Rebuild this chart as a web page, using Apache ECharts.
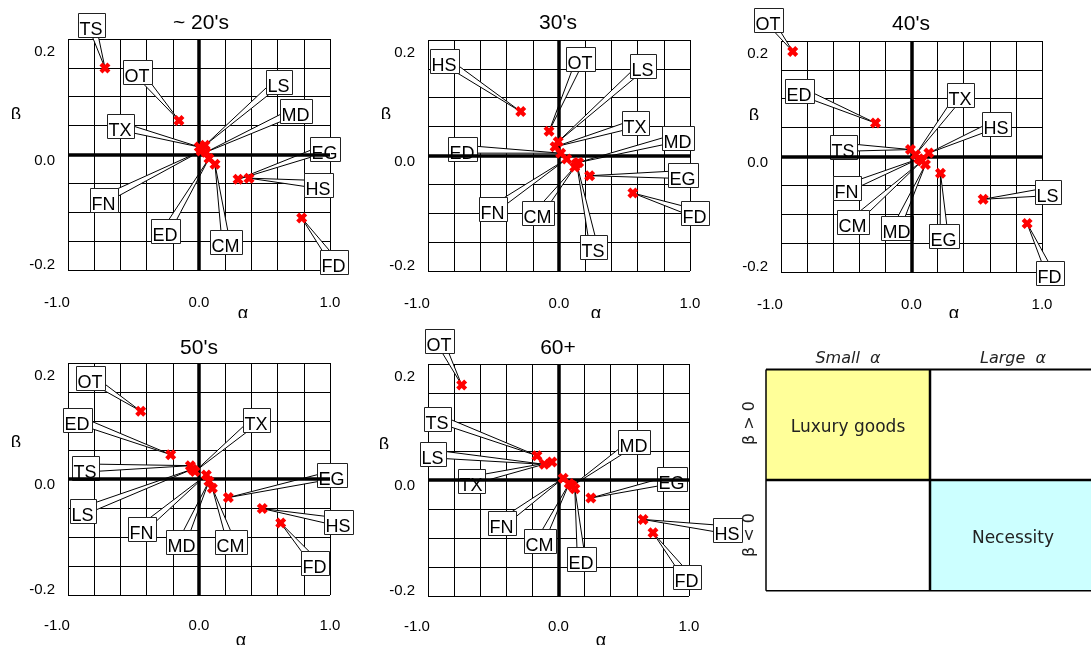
<!DOCTYPE html>
<html>
<head>
<meta charset="utf-8">
<script src="https://cdn.jsdelivr.net/npm/echarts@6.0.0/dist/echarts.min.js"></script>
<style>
html,body{margin:0;padding:0;background:#fff;}
#chart{width:1091px;height:652px;}
</style>
</head>
<body>
<div id="chart"></div>
<script>
// ---------------- DATA ----------------
const goods = ['FD','LS','HS','EG','MD','TS','CM','ED','FN','TX','OT'];
const panelTitles = ["~ 20's", "30's", "40's", "50's", "60+"];

const alpha20 = [0.784, 0.046, 0.382, 0.298, 0.053, -0.718, 0.122, 0.076, 0.015, 0.002, -0.153];
const beta20  = [-0.110, 0.016, -0.041, -0.043, 0.004, 0.150, -0.017, -0.007, 0.006, 0.013, 0.059];
const alpha30 = [0.564, -0.006, -0.292, 0.234, 0.150, 0.135, 0.120, 0.013, 0.059, -0.030, -0.076];
const beta30  = [-0.065, 0.024, 0.076, -0.035, -0.012, -0.014, -0.020, 0.004, -0.006, 0.015, 0.042];
const alpha40 = [0.886, 0.549, 0.133, 0.222, 0.107, -0.008, 0.079, -0.276, 0.056, 0.031, -0.910];
const beta40  = [-0.116, -0.074, 0.006, -0.029, -0.014, 0.012, -0.008, 0.058, -0.004, 0.003, 0.182];
const alpha50 = [0.624, -0.050, 0.483, 0.224, 0.076, -0.066, 0.102, -0.216, 0.056, -0.031, -0.445];
const beta50  = [-0.076, 0.017, -0.051, -0.032, -0.004, 0.023, -0.016, 0.042, 0.007, 0.013, 0.117];
const alpha60 = [0.724, -0.109, 0.648, 0.248, 0.105, -0.165, 0.082, 0.125, 0.036, -0.050, -0.742];
const beta60  = [-0.091, 0.027, -0.068, -0.031, -0.010, 0.042, -0.006, -0.015, 0.003, 0.031, 0.164];

const xTickValues = [-1, 0, 1];
const xTickLabels = ['-1.0', '0.0', '1.0'];
const yTickValues = [-0.2, 0, 0.2];
const yTickLabels = ['-0.2', '0.0', '0.2'];

// ---------------- LAYOUT (callout box centres, in axis units) ----------------
const callout20 = [[1.034,-0.187],[0.607,0.126],[0.916,-0.052],[0.962,0.010],[0.737,0.075],[-0.817,0.224],[0.206,-0.152],[-0.252,-0.133],[-0.729,-0.078],[-0.599,0.049],[-0.466,0.142]];
const callout30 = [[1.038,-0.100],[0.640,0.155],[-0.871,0.164],[0.945,-0.033],[0.907,0.031],[0.266,-0.159],[-0.157,-0.100],[-0.738,0.011],[-0.503,-0.093],[0.587,0.056],[0.164,0.167]];
const callout40 = [[1.062,-0.202],[1.043,-0.061],[0.654,0.057],[0.250,-0.138],[-0.114,-0.123],[-0.519,0.016],[-0.452,-0.114],[-0.861,0.114],[-0.498,-0.055],[0.375,0.107],[-1.096,0.237]];
const callout50 = [[0.882,-0.144],[-0.882,-0.055],[1.063,-0.074],[1.018,0.007],[-0.127,-0.108],[-0.864,0.019],[0.244,-0.108],[-0.926,0.102],[-0.435,-0.086],[0.437,0.102],[-0.830,0.174]];
const callout60 = [[0.986,-0.167],[-0.962,0.045],[1.298,-0.086],[0.872,0.001],[0.576,0.065],[-0.924,0.106],[-0.138,-0.105],[0.175,-0.136],[-0.433,-0.074],[-0.669,-0.001],[-0.911,0.240]];

const panelAlpha = [alpha20, alpha30, alpha40, alpha50, alpha60];
const panelBeta = [beta20, beta30, beta40, beta50, beta60];
const panelCallout = [callout20, callout30, callout40, callout50, callout60];

const gridBoxes = [
  {left:68, top:39, width:262, height:231},
  {left:428, top:40, width:262, height:231},
  {left:781, top:41, width:261, height:231},
  {left:68, top:363, width:262, height:232},
  {left:428, top:364, width:261, height:232}
];
const titlePos = [[201,23],[558,23],[911,24],[199,348],[558,348]];
const alphaNamePos = [[243,314,318],[596,314,318],[954,314,318],[241,641,645],[601,641,645]];
const betaNamePos = [[16,115,119],[386,115,119],[754,116,120],[16,443,447],[384,445,449]];

const FONT = '"Liberation Sans", Arial, sans-serif';
const BOX_FONT_SIZE = 18;
const measureCtx = document.createElement('canvas').getContext('2d');
measureCtx.font = BOX_FONT_SIZE + 'px "Liberation Sans"';
function textW(t){ return measureCtx.measureText(t).width; }

const X_PATH = 'path://M0,3 L3,0 L5.5,2.5 L8,0 L11,3 L8.5,5.5 L11,8 L8,11 L5.5,8.5 L3,11 L0,8 L2.5,5.5 Z';

function near(a,b){ return Math.abs(a-b) < 1e-9; }

const grids = [], xAxes = [], yAxes = [], series = [], graphics = [];

for (let i = 0; i < 5; i++) {
  grids.push(Object.assign({containLabel:false, show:false}, gridBoxes[i]));
  xAxes.push({
    type:'value', gridIndex:i, min:-1, max:1, interval:0.2,
    axisLine:{show:false}, axisTick:{show:false},
    splitLine:{show:true, lineStyle:{color:'#000', width:1}},
    axisLabel:{
      margin: i < 3 ? 25 : 23, fontSize:15, fontFamily:FONT, color:'#000',
      formatter: function(v){
        for (let k = 0; k < xTickValues.length; k++) {
          if (near(v, xTickValues[k])) return k === 0 ? '{l|' + xTickLabels[k] + '}' : xTickLabels[k];
        }
        return '';
      },
      rich:{ l:{padding:[0,22,0,0], fontSize:15, fontFamily:FONT, color:'#000'} }
    }
  });
  yAxes.push({
    type:'value', gridIndex:i, min:-0.2, max:0.2, interval:0.05,
    axisLine:{show:false}, axisTick:{show:false},
    splitLine:{show:true, lineStyle:{color:'#000', width:1}},
    axisLabel:{
      margin:13, fontSize:15, fontFamily:FONT, color:'#000',
      formatter: function(v){
        const tags = ['b','m','t'];
        for (let k = 0; k < yTickValues.length; k++) {
          if (near(v, yTickValues[k])) return '{' + tags[k] + '|' + yTickLabels[k] + '}';
        }
        return '';
      },
      rich:{
        t:{padding:[26,0,0,0], fontSize:15, fontFamily:FONT, color:'#000'},
        m:{padding:[12,0,0,0], fontSize:15, fontFamily:FONT, color:'#000'},
        b:{padding:[0,0,10,0], fontSize:15, fontFamily:FONT, color:'#000'}
      }
    }
  });

  const al = panelAlpha[i], be = panelBeta[i], co = panelCallout[i];
  const pts = goods.map((g, k) => [al[k], be[k]]);
  const calloutData = goods.map((g, k) => [al[k], be[k], co[k][0], co[k][1], k]);

  // zero axes
  series.push({
    type:'scatter', xAxisIndex:i, yAxisIndex:i, data:[], z:2, silent:true,
    markLine:{
      silent:true, symbol:['none','none'], animation:false,
      label:{show:false},
      lineStyle:{color:'#000', width:3.5, type:'solid'},
      emphasis:{disabled:true},
      data:[{xAxis:0},{yAxis:0}]
    }
  });
  // wedges
  series.push({
    type:'custom', xAxisIndex:i, yAxisIndex:i, z:3, silent:true, clip:false,
    data: calloutData,
    renderItem: function(params, api){
      const p = api.coord([api.value(0), api.value(1)]);
      const c = api.coord([api.value(2), api.value(3)]);
      const dx = c[0]-p[0], dy = c[1]-p[1];
      const L = Math.hypot(dx, dy) || 1;
      const nx = -dy/L, ny = dx/L, hw = 4;
      return {
        type:'polygon',
        shape:{points:[p, [c[0]+nx*hw, c[1]+ny*hw], [c[0]-nx*hw, c[1]-ny*hw]]},
        style:{fill:'#fff', stroke:'#000', lineWidth:1}
      };
    }
  });
  // boxes
  series.push({
    type:'custom', xAxisIndex:i, yAxisIndex:i, z:4, silent:true, clip:false,
    data: calloutData,
    renderItem: function(params, api){
      const name = goods[api.value(4)];
      const c = api.coord([api.value(2), api.value(3)]);
      const w = Math.round(textW(name) + 4), h = 24;
      const x = Math.round(c[0] - w/2) + 0.5, y = Math.round(c[1] - h/2) + 0.5;
      return {
        type:'group',
        children:[
          {type:'rect', shape:{x:x, y:y, width:w, height:h}, style:{fill:'#fff', stroke:'#222', lineWidth:1}},
          {type:'text', x:x+1, y:y+h-7, style:{text:name, fill:'#000', fontSize:BOX_FONT_SIZE, fontFamily:FONT, align:'left', verticalAlign:'middle'}}
        ]
      };
    }
  });
  // points
  series.push({
    type:'scatter', xAxisIndex:i, yAxisIndex:i, z:6, silent:true,
    symbol:X_PATH, symbolSize:11,
    itemStyle:{color:'#ff0000', opacity:1},
    data: pts
  });

  graphics.push({type:'text', x:titlePos[i][0], y:titlePos[i][1], z:50,
    style:{text:panelTitles[i], font:'21px ' + FONT, fill:'#000', align:'center', verticalAlign:'middle'}});
  const ap = alphaNamePos[i];
  graphics.push({type:'text', x:ap[0], y:ap[1], z:50,
    style:{text:'α', font:'18px ' + FONT, fill:'#000', align:'center', verticalAlign:'middle'}});
  graphics.push({type:'rect', shape:{x:ap[0]-12, y:ap[2], width:24, height:14}, z:51, style:{fill:'#fff'}});
  const bp = betaNamePos[i];
  graphics.push({type:'text', x:bp[0], y:bp[1], z:50,
    style:{text:'β', font:'18px ' + FONT, fill:'#000', align:'center', verticalAlign:'middle'}});
  graphics.push({type:'rect', shape:{x:bp[0]-10, y:bp[2], width:20, height:12}, z:51, style:{fill:'#fff'}});
}

// ---------------- Quadrant legend diagram ----------------
const QFONT = '"DejaVu Sans", sans-serif';
graphics.push(
  {type:'rect', shape:{x:766, y:369.5, width:164, height:110.5}, z:40, style:{fill:'#FFFF99'}},
  {type:'rect', shape:{x:930, y:480, width:170, height:110.7}, z:40, style:{fill:'#CCFFFF'}},
  {type:'line', shape:{x1:766, y1:369.5, x2:1100, y2:369.5}, z:41, style:{stroke:'#000', lineWidth:2}},
  {type:'line', shape:{x1:766, y1:590.7, x2:1100, y2:590.7}, z:41, style:{stroke:'#000', lineWidth:1.5}},
  {type:'line', shape:{x1:766, y1:369.5, x2:766, y2:590.7}, z:41, style:{stroke:'#000', lineWidth:1.5}},
  {type:'line', shape:{x1:930, y1:369.5, x2:930, y2:590.7}, z:41, style:{stroke:'#000', lineWidth:2.5}},
  {type:'line', shape:{x1:766, y1:480, x2:1100, y2:480}, z:41, style:{stroke:'#000', lineWidth:2.5}},
  {type:'text', x:848, y:428, z:42, style:{text:'Luxury goods', font:'17px ' + QFONT, fill:'#222', align:'center', verticalAlign:'middle'}},
  {type:'text', x:1013, y:539, z:42, style:{text:'Necessity', font:'17px ' + QFONT, fill:'#222', align:'center', verticalAlign:'middle'}},
  {type:'text', x:848, y:359, z:42, style:{text:'Small  α', font:'italic 16px ' + QFONT, fill:'#222', align:'center', verticalAlign:'middle'}},
  {type:'text', x:1013, y:359, z:42, style:{text:'Large  α', font:'italic 16px ' + QFONT, fill:'#222', align:'center', verticalAlign:'middle'}},
  {type:'text', x:750, y:423, z:42, rotation:Math.PI/2, style:{text:'β > 0', font:'16px ' + QFONT, fill:'#222', align:'center', verticalAlign:'middle'}},
  {type:'text', x:750, y:535, z:42, rotation:Math.PI/2, style:{text:'β < 0', font:'16px ' + QFONT, fill:'#222', align:'center', verticalAlign:'middle'}}
);

const chart = echarts.init(document.getElementById('chart'), null, {renderer:'canvas'});
chart.setOption({
  backgroundColor:'#fff',
  animation:false,
  grid: grids,
  xAxis: xAxes,
  yAxis: yAxes,
  series: series,
  graphic: graphics
});
</script>
</body>
</html>
